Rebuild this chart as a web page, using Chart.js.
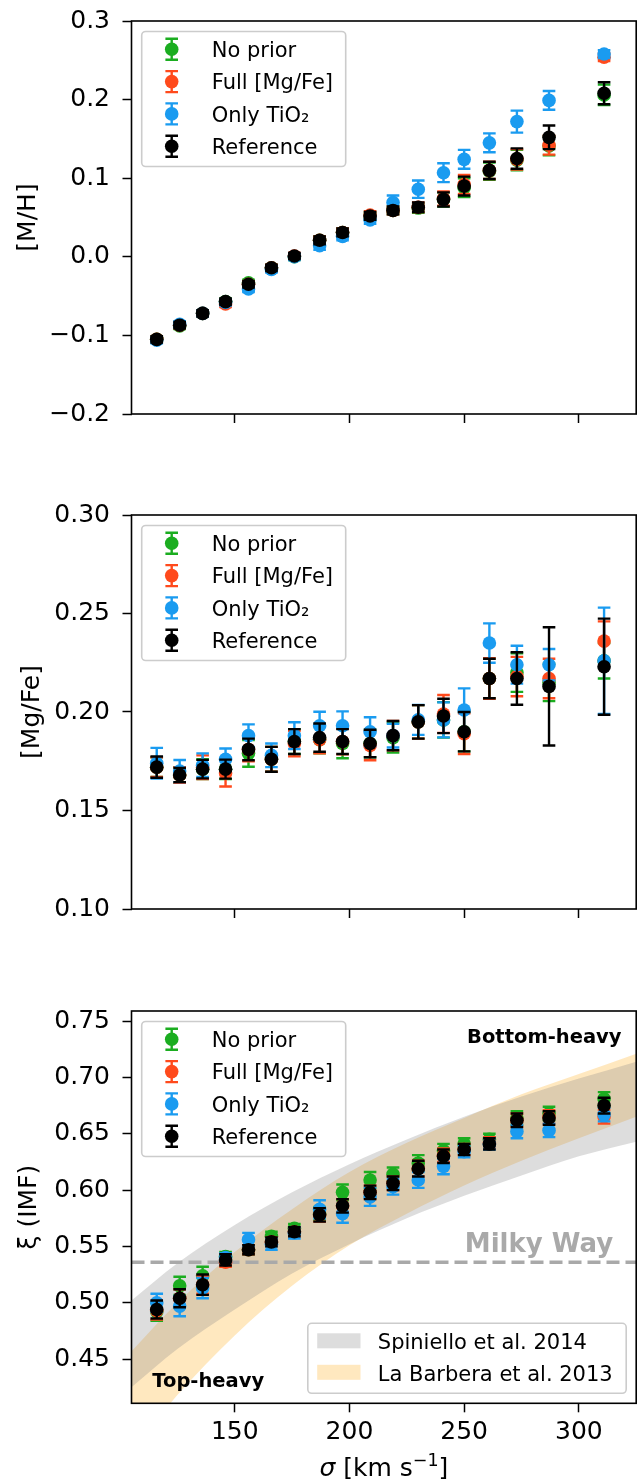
<!DOCTYPE html>
<html>
<head>
<meta charset="utf-8">
<script src="https://cdn.jsdelivr.net/npm/chart.js@4.4.1/dist/chart.umd.min.js"></script>
<style>
  html, body { margin: 0; padding: 0; background: #fff; }
  #page { position: relative; width: 643px; height: 1484px; }
  canvas { position: absolute; left: 0; }
</style>
</head>
<body>
<div id="page">
  <canvas id="mhChart" width="643" height="470" style="top:0px"></canvas>
  <canvas id="mgfeChart" width="643" height="495" style="top:470px"></canvas>
  <canvas id="imfChart" width="643" height="519" style="top:965px"></canvas>
</div>
<script>
// Velocity dispersion bins (km/s)
const sigma = [116, 126, 136, 146, 156, 166, 176, 187, 197, 209, 219, 230, 241, 250, 261, 273, 287, 311];
const xRange = [105, 325];
const xTicks = [150, 200, 250, 300];

const seriesNames = ['No prior', 'Full [Mg/Fe]', 'Only TiO\u2082', 'Reference'];
const seriesColors = ['#1bad20', '#ff4a1c', '#1a9bf0', '#000000'];

// [M/H]
const mhNoPrior = [-0.105, -0.088, -0.072, -0.057, -0.033, -0.014, 0.000, 0.021, 0.031, 0.052, 0.059, 0.062, 0.073, 0.088, 0.109, 0.123, 0.141, 0.206];
const mhFull    = [-0.105, -0.087, -0.072, -0.060, -0.035, -0.014, 0.001, 0.021, 0.031, 0.053, 0.059, 0.063, 0.074, 0.092, 0.110, 0.124, 0.142, 0.254];
const mhTiO     = [-0.106, -0.086, -0.072, -0.058, -0.041, -0.016, 0.000, 0.014, 0.026, 0.047, 0.069, 0.086, 0.107, 0.124, 0.145, 0.172, 0.199, 0.258];
const mhRef     = [-0.105, -0.087, -0.072, -0.057, -0.035, -0.014, 0.001, 0.021, 0.031, 0.052, 0.059, 0.063, 0.073, 0.090, 0.110, 0.125, 0.152, 0.208];
const mhNoPriorErr = [0.004, 0.004, 0.004, 0.004, 0.004, 0.004, 0.004, 0.005, 0.005, 0.005, 0.005, 0.006, 0.009, 0.012, 0.011, 0.013, 0.012, 0.013];
const mhFullErr    = [0.004, 0.004, 0.004, 0.004, 0.004, 0.004, 0.004, 0.005, 0.005, 0.005, 0.005, 0.006, 0.009, 0.012, 0.011, 0.013, 0.012, 0.005];
const mhTiOErr     = [0.004, 0.004, 0.004, 0.004, 0.004, 0.004, 0.004, 0.005, 0.005, 0.005, 0.009, 0.011, 0.012, 0.012, 0.012, 0.014, 0.012, 0.005];
const mhRefErr     = [0.004, 0.004, 0.004, 0.004, 0.004, 0.004, 0.004, 0.005, 0.005, 0.005, 0.005, 0.006, 0.009, 0.012, 0.011, 0.013, 0.015, 0.014];
const mhRange = [-0.2, 0.3];
const mhTicks = [-0.2, -0.1, 0.0, 0.1, 0.2, 0.3];
const mhTickLabels = ['\u22120.2', '\u22120.1', '0.0', '0.1', '0.2', '0.3'];

// [Mg/Fe]
const mgNoPrior = [0.172, 0.168, 0.171, 0.171, 0.179, 0.176, 0.185, 0.186, 0.184, 0.184, 0.187, 0.195, 0.196, 0.190, 0.217, 0.220, 0.215, 0.226];
const mgFull    = [0.172, 0.168, 0.172, 0.169, 0.181, 0.176, 0.184, 0.186, 0.185, 0.183, 0.188, 0.195, 0.199, 0.189, 0.217, 0.218, 0.217, 0.236];
const mgTiO     = [0.174, 0.170, 0.173, 0.176, 0.188, 0.178, 0.188, 0.193, 0.193, 0.190, 0.188, 0.196, 0.196, 0.201, 0.235, 0.224, 0.224, 0.226];
const mgRef     = [0.172, 0.168, 0.171, 0.171, 0.181, 0.176, 0.185, 0.187, 0.185, 0.184, 0.188, 0.195, 0.198, 0.190, 0.217, 0.217, 0.213, 0.223];
const mgNoPriorErr = [0.005, 0.004, 0.005, 0.005, 0.0068, 0.0063, 0.0063, 0.007, 0.0075, 0.007, 0.0076, 0.0085, 0.009, 0.010, 0.010, 0.0098, 0.0095, 0.009];
const mgFullErr    = [0.005, 0.004, 0.006, 0.0068, 0.006, 0.0063, 0.0065, 0.007, 0.0065, 0.0075, 0.0075, 0.0085, 0.0096, 0.0103, 0.0103, 0.010, 0.010, 0.010];
const mgTiOErr     = [0.0078, 0.0056, 0.006, 0.0055, 0.0057, 0.006, 0.0068, 0.0071, 0.0073, 0.0073, 0.006, 0.0076, 0.0089, 0.011, 0.010, 0.0096, 0.008, 0.027];
const mgRefErr     = [0.0054, 0.0036, 0.0047, 0.0048, 0.0055, 0.0063, 0.0063, 0.0072, 0.0063, 0.007, 0.0074, 0.0085, 0.0087, 0.010, 0.010, 0.0133, 0.030, 0.0244];
const mgRange = [0.10, 0.30];
const mgTicks = [0.10, 0.15, 0.20, 0.25, 0.30];
const mgTickLabels = ['0.10', '0.15', '0.20', '0.25', '0.30'];

// xi (IMF)
const xiNoPrior = [0.492, 0.515, 0.524, 0.541, 0.547, 0.559, 0.566, 0.579, 0.598, 0.609, 0.614, 0.624, 0.635, 0.641, 0.645, 0.664, 0.668, 0.681];
const xiFull    = [0.493, 0.504, 0.516, 0.536, 0.547, 0.554, 0.563, 0.578, 0.586, 0.598, 0.606, 0.619, 0.631, 0.636, 0.642, 0.662, 0.665, 0.665];
const xiTiO     = [0.500, 0.497, 0.513, 0.540, 0.556, 0.552, 0.562, 0.583, 0.579, 0.594, 0.603, 0.609, 0.621, 0.634, 0.641, 0.652, 0.653, 0.667];
const xiRef     = [0.494, 0.504, 0.516, 0.538, 0.547, 0.554, 0.563, 0.578, 0.586, 0.598, 0.606, 0.619, 0.630, 0.636, 0.641, 0.662, 0.664, 0.675];
const xiNoPriorErr = [0.008, 0.008, 0.008, 0.004, 0.004, 0.004, 0.004, 0.006, 0.007, 0.007, 0.006, 0.007, 0.006, 0.005, 0.005, 0.006, 0.006, 0.006];
const xiFullErr    = [0.008, 0.008, 0.008, 0.004, 0.004, 0.004, 0.004, 0.006, 0.006, 0.006, 0.006, 0.007, 0.006, 0.005, 0.005, 0.006, 0.006, 0.006];
const xiTiOErr     = [0.008, 0.009, 0.009, 0.004, 0.006, 0.005, 0.005, 0.008, 0.008, 0.008, 0.007, 0.007, 0.007, 0.005, 0.005, 0.006, 0.006, 0.006];
const xiRefErr     = [0.008, 0.008, 0.009, 0.005, 0.004, 0.004, 0.004, 0.006, 0.006, 0.006, 0.006, 0.007, 0.006, 0.005, 0.005, 0.006, 0.006, 0.007];
const xiRange = [0.4107, 0.759];
const xiTicks = [0.45, 0.50, 0.55, 0.60, 0.65, 0.70, 0.75];
const xiTickLabels = ['0.45', '0.50', '0.55', '0.60', '0.65', '0.70', '0.75'];

// Literature relations (band edges)
const bandSigma = [105, 125, 150, 175, 200, 225, 250, 275, 300, 325];
const spinielloLow  = [0.425, 0.459, 0.494, 0.526, 0.552, 0.575, 0.595, 0.613, 0.630, 0.643];
const spinielloHigh = [0.502, 0.535, 0.569, 0.598, 0.623, 0.645, 0.665, 0.683, 0.699, 0.714];
const laBarberaLow  = [0.368, 0.418, 0.471, 0.515, 0.551, 0.579, 0.604, 0.626, 0.646, 0.665];
const laBarberaHigh = [0.457, 0.500, 0.545, 0.583, 0.616, 0.642, 0.664, 0.685, 0.703, 0.721];
const milkyWay = 0.536;

Chart.defaults.font.family = '"DejaVu Sans", sans-serif';
Chart.defaults.color = '#000';

const FONT = '"DejaVu Sans", sans-serif';
const GREY_BAND = 'rgba(128,128,128,0.27)';
const ORANGE_BAND = 'rgba(255,165,0,0.25)';

function toPoints(xs, ys) {
    return xs.map((x, i) => ({ x: x, y: ys[i] }));
}

function seriesDatasets(values, errors) {
    return values.map((vals, k) => ({
        label: seriesNames[k],
        data: toPoints(sigma, vals),
        errors: errors[k],
        backgroundColor: seriesColors[k],
        borderColor: seriesColors[k],
        pointRadius: 6.8,
        pointHoverRadius: 6.8,
        pointBorderWidth: 0,
        showLine: false,
        order: 4 - k
    }));
}

function bandDatasets(low, high, color) {
    return [
        { data: toPoints(bandSigma, low), showLine: true, borderColor: 'rgba(0,0,0,0)', borderWidth: 1,
          pointRadius: 0, fill: false, cubicInterpolationMode: 'monotone', order: 20 },
        { data: toPoints(bandSigma, high), showLine: true, borderColor: 'rgba(0,0,0,0)', borderWidth: 1,
          pointRadius: 0, fill: '-1', backgroundColor: color, cubicInterpolationMode: 'monotone', order: 20 }
    ];
}

function roundBox(ctx, x, y, w, h, r) {
    ctx.beginPath();
    ctx.moveTo(x + r, y);
    ctx.lineTo(x + w - r, y);
    ctx.arcTo(x + w, y, x + w, y + r, r);
    ctx.lineTo(x + w, y + h - r);
    ctx.arcTo(x + w, y + h, x + w - r, y + h, r);
    ctx.lineTo(x + r, y + h);
    ctx.arcTo(x, y + h, x, y + h - r, r);
    ctx.lineTo(x, y + r);
    ctx.arcTo(x, y, x + r, y, r);
    ctx.closePath();
    ctx.fillStyle = 'rgba(255,255,255,0.8)';
    ctx.fill();
    ctx.strokeStyle = '#cccccc';
    ctx.lineWidth = 1.6;
    ctx.stroke();
}

function drawErrorBar(ctx, x, yLow, yHigh, color) {
    ctx.strokeStyle = color;
    ctx.lineWidth = 2.4;
    ctx.beginPath();
    ctx.moveTo(x, yLow); ctx.lineTo(x, yHigh);
    ctx.moveTo(x - 6.3, yLow); ctx.lineTo(x + 6.3, yLow);
    ctx.moveTo(x - 6.3, yHigh); ctx.lineTo(x + 6.3, yHigh);
    ctx.stroke();
}

// error bars go under their own markers, above earlier series
const errorBarPlugin = {
    id: 'errorBars',
    beforeDatasetDraw(chart, args) {
        const ds = chart.data.datasets[args.index];
        if (!ds.errors) return;
        const yScale = chart.scales.y;
        const ctx = chart.ctx;
        ctx.save();
        args.meta.data.forEach((pt, i) => {
            const v = ds.data[i].y, e = ds.errors[i];
            drawErrorBar(ctx, pt.x, yScale.getPixelForValue(v - e), yScale.getPixelForValue(v + e), ds.backgroundColor);
        });
        ctx.restore();
    }
};

const framePlugin = {
    id: 'frame',
    afterDatasetsDraw(chart) {
        const a = chart.chartArea, ctx = chart.ctx;
        ctx.save();
        ctx.strokeStyle = '#000';
        ctx.lineWidth = 1.6;
        ctx.strokeRect(a.left, a.top, a.right - a.left, a.bottom - a.top);
        ctx.restore();
    }
};

const seriesLegendPlugin = {
    id: 'seriesLegend',
    afterDraw(chart) {
        const ctx = chart.ctx, a = chart.chartArea;
        const left = a.left + 10.2, top = a.top + 10.5;
        ctx.save();
        roundBox(ctx, left, top, 204, 135, 4);
        seriesNames.forEach((name, k) => {
            const cy = top + 17.8 + 32.3 * k;
            const mx = left + 30;
            drawErrorBar(ctx, mx, cy + 10.5, cy - 10.5, seriesColors[k]);
            ctx.fillStyle = seriesColors[k];
            ctx.beginPath();
            ctx.arc(mx, cy, 6.8, 0, Math.PI * 2);
            ctx.fill();
            ctx.fillStyle = '#000';
            ctx.font = '21px ' + FONT;
            ctx.textAlign = 'left';
            ctx.textBaseline = 'alphabetic';
            ctx.fillText(name, left + 70, cy + 7.6);
        });
        ctx.restore();
    }
};

const imfExtrasPlugin = {
    id: 'imfExtras',
    afterDatasetsDraw(chart) {
        const ctx = chart.ctx, a = chart.chartArea;
        const y = chart.scales.y;
        ctx.save();
        ctx.textBaseline = 'alphabetic';
        ctx.font = 'bold 26px ' + FONT;
        ctx.fillStyle = '#a9a9a9';
        ctx.textAlign = 'right';
        ctx.fillText('Milky Way', a.right - 23, y.getPixelForValue(milkyWay) - 10.5);
        ctx.font = 'bold 19.5px ' + FONT;
        ctx.fillStyle = '#000';
        ctx.fillText('Bottom-heavy', a.right - 14.7, a.top + 31.7);
        ctx.textAlign = 'left';
        ctx.fillText('Top-heavy', a.left + 20.8, a.bottom - 16.6);
        ctx.restore();
    },
    afterDraw(chart) {
        const ctx = chart.ctx, a = chart.chartArea;
        ctx.save();
        // band legend
        const bx = a.right - 10 - 318.4, by = a.bottom - 10 - 70;
        roundBox(ctx, bx, by, 318.4, 70, 4);
        const bands = [['Spiniello et al. 2014', GREY_BAND], ['La Barbera et al. 2013', ORANGE_BAND]];
        bands.forEach((b, k) => {
            const py = by + 10 + 31.5 * k;
            ctx.fillStyle = b[1];
            ctx.fillRect(bx + 9.4, py, 43.3, 15);
            ctx.fillStyle = '#000';
            ctx.font = '21px ' + FONT;
            ctx.textAlign = 'left';
            ctx.textBaseline = 'alphabetic';
            ctx.fillText(b[0], bx + 70, py + 15.7);
        });
        // x axis title with italic sigma and superscript
        const base = chart.height - 8;
        const parts = [
            ['\u03c3', 'italic 25px ' + FONT, 0],
            [' [km s', '25px ' + FONT, 0],
            ['\u22121', '17.5px ' + FONT, -10],
            [']', '25px ' + FONT, 0]
        ];
        let total = 0;
        parts.forEach(p => { ctx.font = p[1]; total += ctx.measureText(p[0]).width; });
        let x = (a.left + a.right) / 2 - total / 2;
        ctx.fillStyle = '#000';
        ctx.textAlign = 'left';
        parts.forEach(p => {
            ctx.font = p[1];
            ctx.fillText(p[0], x, base + p[2]);
            x += ctx.measureText(p[0]).width;
        });
        ctx.restore();
    }
};

function makeScales(yRange, yTicks, yLabels, yTitle, titlePad, xHeight, showXLabels) {
    return {
        x: {
            type: 'linear',
            min: xRange[0],
            max: xRange[1],
            afterBuildTicks: s => { s.ticks = xTicks.map(v => ({ value: v })); },
            afterFit: s => { s.height = xHeight; s.paddingLeft = 0; s.paddingRight = 0; },
            border: { display: false },
            grid: { drawOnChartArea: false, drawTicks: true, tickLength: 9, tickWidth: 1.5, tickColor: '#000' },
            ticks: { display: showXLabels, padding: 5, font: { size: 25 }, color: '#000', maxRotation: 0,
                     callback: v => String(v) }
        },
        y: {
            type: 'linear',
            min: yRange[0],
            max: yRange[1],
            afterBuildTicks: s => { s.ticks = yTicks.map(v => ({ value: v })); },
            afterFit: s => { s.width = 131.5; s.paddingTop = 0; s.paddingBottom = 0; },
            border: { display: false },
            grid: { drawOnChartArea: false, drawTicks: true, tickLength: 9, tickWidth: 1.5, tickColor: '#000' },
            ticks: { padding: 12.5, font: { size: 25 }, color: '#000', callback: (v, i) => yLabels[i] },
            title: { display: true, text: yTitle, font: { size: 25 }, color: '#000', padding: { top: titlePad, bottom: 0 } }
        }
    };
}

function baseOptions(padTop, scales) {
    return {
        responsive: false,
        animation: false,
        devicePixelRatio: 1,
        layout: { padding: { top: padTop, right: 1.3, left: 0, bottom: 0 } },
        plugins: { legend: { display: false }, tooltip: { enabled: false } },
        scales: scales
    };
}

function createMetallicityChart() {
    const ctx = document.getElementById('mhChart').getContext('2d');
    return new Chart(ctx, {
        type: 'scatter',
        data: { datasets: seriesDatasets([mhNoPrior, mhFull, mhTiO, mhRef], [mhNoPriorErr, mhFullErr, mhTiOErr, mhRefErr]) },
        options: baseOptions(21, makeScales(mhRange, mhTicks, mhTickLabels, '[M/H]', 13, 56, false)),
        plugins: [errorBarPlugin, framePlugin, seriesLegendPlugin]
    });
}

function createAlphaChart() {
    const ctx = document.getElementById('mgfeChart').getContext('2d');
    return new Chart(ctx, {
        type: 'scatter',
        data: { datasets: seriesDatasets([mgNoPrior, mgFull, mgTiO, mgRef], [mgNoPriorErr, mgFullErr, mgTiOErr, mgRefErr]) },
        options: baseOptions(45, makeScales(mgRange, mgTicks, mgTickLabels, '[Mg/Fe]', 17.5, 56, false)),
        plugins: [errorBarPlugin, framePlugin, seriesLegendPlugin]
    });
}

function createImfChart() {
    const ctx = document.getElementById('imfChart').getContext('2d');
    const datasets = []
        .concat(bandDatasets(spinielloLow, spinielloHigh, GREY_BAND))
        .concat(bandDatasets(laBarberaLow, laBarberaHigh, ORANGE_BAND))
        .concat([{
            data: toPoints(xRange, [milkyWay, milkyWay]),
            showLine: true, borderColor: '#a9a9a9', borderWidth: 3.5, borderDash: [13, 6],
            pointRadius: 0, fill: false, order: 10
        }])
        .concat(seriesDatasets([xiNoPrior, xiFull, xiTiO, xiRef], [xiNoPriorErr, xiFullErr, xiTiOErr, xiRefErr]));
    return new Chart(ctx, {
        type: 'scatter',
        data: { datasets: datasets },
        options: baseOptions(46, makeScales(xiRange, xiTicks, xiTickLabels, '\u03be (IMF)', 14, 80.7, true)),
        plugins: [errorBarPlugin, framePlugin, seriesLegendPlugin, imfExtrasPlugin]
    });
}

createMetallicityChart();
createAlphaChart();
createImfChart();
</script>
</body>
</html>
